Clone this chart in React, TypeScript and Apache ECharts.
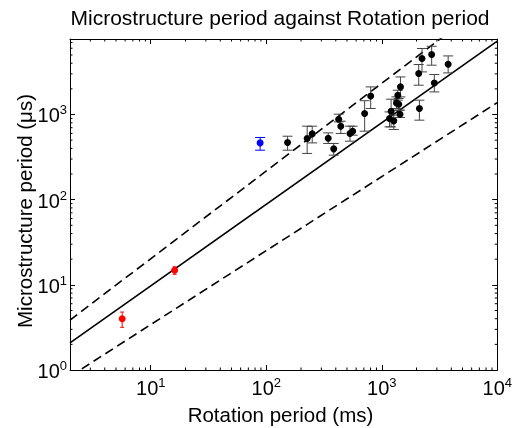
import React, { useEffect, useRef } from "react";
import * as echarts from "echarts";

// ---- data ----
const BLACK_P = [153, 226, 250, 344, 384, 424, 442, 531, 560, 711, 802, 1452, 1377, 1341, 1403, 1205, 1439, 1167, 1271, 2089, 2230, 2704, 2118, 2851, 3758];
const BLACK_MU = [470, 523, 592, 527, 395, 881, 729, 599, 637, 1028, 1652, 2109, 1686, 1368, 1322, 1094, 1009, 898, 842, 3028, 4541, 5058, 1177, 2349, 3892];
const BLACK_LO = [381, 349, 464, 457, 333, 819, 599, 486, 572, 637, 1177, 1610, 1472, 1177, 1124, 716, 923, 716, 667, 2208, 3162, 3793, 858, 1842, 3078];
const BLACK_HI = [556, 729, 729, 608, 457, 1009, 834, 729, 729, 1452, 2109, 2762, 1928, 1610, 1541, 1513, 1124, 1073, 982, 3864, 5957, 6329, 1472, 2946, 4875];

const BLUE_P = [88.5];
const BLUE_MU = [464];
const BLUE_LO = [381];
const BLUE_HI = [537];

const RED_P = [5.66, 16.1];
const RED_MU = [4.0, 14.8];
const RED_LO = [3.17, 13.3];
const RED_HI = [4.79, 16.3];

// power-law lines: mu = A * P^B
const FIT_A = [1.07, 1.89, 0.461];
const FIT_B = [0.958, 1.03, 0.869];
const FIT_NAMES = ["fit", "upper", "lower"];

const X_MIN = 2;
const X_MAX = 10000;
const Y_MIN = 1;
const Y_MAX = 7700;
const MINOR_MULT = [2, 3, 4, 5, 6, 7, 8, 9];

const FONT = "Liberation Sans";

function minorTicks(min: number, max: number): number[] {
  const out: number[] = [];
  for (let d = Math.floor(Math.log10(min)); d <= Math.ceil(Math.log10(max)); d++) {
    for (const m of MINOR_MULT) {
      const v = m * Math.pow(10, d);
      if (v > min && v < max) out.push(v);
    }
  }
  return out;
}

function fmt(v: number): string {
  const l = Math.log10(v);
  const e = Math.round(l);
  if (Math.abs(l - e) > 1e-6) return "";
  return `{b|10}{s|${e}}`;
}

const rich = {
  b: { fontSize: 20, fontFamily: FONT, color: "#000", lineHeight: 22, verticalAlign: "bottom" },
  s: { fontSize: 13, fontFamily: FONT, color: "#000", lineHeight: 6, verticalAlign: "top" },
};

function errSeries(name: string, P: number[], LO: number[], HI: number[], color: string, cap: number) {
  return {
    name,
    type: "custom",
    xAxisIndex: 0,
    yAxisIndex: 0,
    z: 2,
    silent: true,
    encode: { x: 0, y: [1, 2] },
    data: P.map((p, i) => [p, LO[i], HI[i]]),
    renderItem: (params: any, api: any) => {
      const x = api.value(0);
      const top = api.coord([x, api.value(2)]);
      const bot = api.coord([x, api.value(1)]);
      const st = { stroke: color, lineWidth: 1 };
      return {
        type: "group",
        children: [
          { type: "line", shape: { x1: top[0], y1: top[1], x2: bot[0], y2: bot[1] }, style: st },
          { type: "line", shape: { x1: top[0] - cap, y1: top[1], x2: top[0] + cap, y2: top[1] }, style: st },
          { type: "line", shape: { x1: bot[0] - cap, y1: bot[1], x2: bot[0] + cap, y2: bot[1] }, style: st },
        ],
      };
    },
  };
}

export default function App() {
  const ref = useRef<HTMLDivElement>(null);
  useEffect(() => {
    if (!ref.current) return;
    const chart = echarts.init(ref.current, undefined, { renderer: "svg" });

    const axisLine = { show: true, lineStyle: { color: "#000", width: 1 } };
    const axisTick = { show: true, inside: true, length: 5, lineStyle: { color: "#000", width: 1 } };

    const xMinor = minorTicks(X_MIN, X_MAX);
    const yMinor = minorTicks(Y_MIN, Y_MAX);

    const lineSeries = FIT_A.map((a, i) => ({
      name: FIT_NAMES[i],
      type: "line",
      xAxisIndex: 0,
      yAxisIndex: 0,
      showSymbol: false,
      symbol: "none",
      clip: true,
      z: 1,
      silent: true,
      lineStyle: { color: "#000", width: 1.6, type: i === 0 ? "solid" : [9, 5] },
      data: [X_MIN, X_MAX].map((x) => [x, a * Math.pow(x, FIT_B[i])]),
    }));

    const scatter = (name: string, P: number[], MU: number[], color: string) => ({
      name,
      type: "scatter",
      xAxisIndex: 0,
      yAxisIndex: 0,
      symbolSize: 7,
      z: 4,
      itemStyle: { color, opacity: 1 },
      data: P.map((p, i) => [p, MU[i]]),
    });

    const option: any = {
      animation: false,
      grid: { left: 70, right: 15, top: 39, bottom: 58, containLabel: false },
      xAxis: [
        {
          type: "log",
          logBase: 10,
          min: X_MIN,
          max: X_MAX,
          position: "bottom",
          axisLine,
          axisTick,
          splitLine: { show: false },
          axisLabel: { formatter: fmt, rich, margin: 6, showMinLabel: true, showMaxLabel: true },
        },
        {
          type: "log",
          logBase: 10,
          min: X_MIN,
          max: X_MAX,
          position: "top",
          axisLine,
          axisTick,
          splitLine: { show: false },
          axisLabel: { show: false },
        },
      ],
      yAxis: [
        {
          type: "log",
          logBase: 10,
          min: Y_MIN,
          max: Y_MAX,
          position: "left",
          axisLine,
          axisTick,
          splitLine: { show: false },
          axisLabel: { formatter: fmt, rich, margin: 3, showMinLabel: true, showMaxLabel: true },
        },
        {
          type: "log",
          logBase: 10,
          min: Y_MIN,
          max: Y_MAX,
          position: "right",
          axisLine,
          axisTick,
          splitLine: { show: false },
          axisLabel: { show: false },
        },
      ],
      graphic: [
        {
          type: "text",
          x: 280,
          y: 17,
          style: { text: "Microstructure period against Rotation period", font: `21px '${FONT}'`, fill: "#000", textAlign: "center", textVerticalAlign: "middle" },
        },
        {
          type: "text",
          x: 280.5,
          y: 414,
          style: { text: "Rotation period (ms)", font: `20.5px '${FONT}'`, fill: "#000", textAlign: "center", textVerticalAlign: "middle" },
        },
        {
          type: "text",
          x: 24,
          y: 211,
          rotation: Math.PI / 2,
          style: { text: "Microstructure period (\u03bcs)", font: `20.5px '${FONT}'`, fill: "#000", textAlign: "center", textVerticalAlign: "middle" },
        },
      ],
      series: [
        ...lineSeries,
        {
          name: "xminor",
          type: "custom",
          xAxisIndex: 0,
          yAxisIndex: 0,
          silent: true,
          z: 3,
          encode: { x: 0 },
          data: xMinor.map((v) => [v]),
          renderItem: (params: any, api: any) => {
            const b = api.coord([api.value(0), Y_MIN]);
            const t = api.coord([api.value(0), Y_MAX]);
            const st = { stroke: "#000", lineWidth: 1 };
            return {
              type: "group",
              children: [
                { type: "line", shape: { x1: b[0], y1: b[1], x2: b[0], y2: b[1] - 2.5 }, style: st },
                { type: "line", shape: { x1: t[0], y1: t[1], x2: t[0], y2: t[1] + 2.5 }, style: st },
              ],
            };
          },
        },
        {
          name: "yminor",
          type: "custom",
          xAxisIndex: 0,
          yAxisIndex: 0,
          silent: true,
          z: 3,
          encode: { y: 0 },
          data: yMinor.map((v) => [v]),
          renderItem: (params: any, api: any) => {
            const l = api.coord([X_MIN, api.value(0)]);
            const r = api.coord([X_MAX, api.value(0)]);
            const st = { stroke: "#000", lineWidth: 1 };
            return {
              type: "group",
              children: [
                { type: "line", shape: { x1: l[0], y1: l[1], x2: l[0] + 2.5, y2: l[1] }, style: st },
                { type: "line", shape: { x1: r[0], y1: r[1], x2: r[0] - 2.5, y2: r[1] }, style: st },
              ],
            };
          },
        },
        errSeries("blackErr", BLACK_P, BLACK_LO, BLACK_HI, "#444", 5),
        errSeries("blueErr", BLUE_P, BLUE_LO, BLUE_HI, "#0000ff", 5),
        errSeries("redErr", RED_P, RED_LO, RED_HI, "#ff0000", 2),
        scatter("black", BLACK_P, BLACK_MU, "#000"),
        scatter("blue", BLUE_P, BLUE_MU, "#0000ff"),
        scatter("red", RED_P, RED_MU, "#ff0000"),
      ],
    };
    chart.setOption(option);
    return () => chart.dispose();
  }, []);
  return <div ref={ref} style={{ position: "fixed", left: 0, top: 0, width: 515, height: 428 }} />;
}
